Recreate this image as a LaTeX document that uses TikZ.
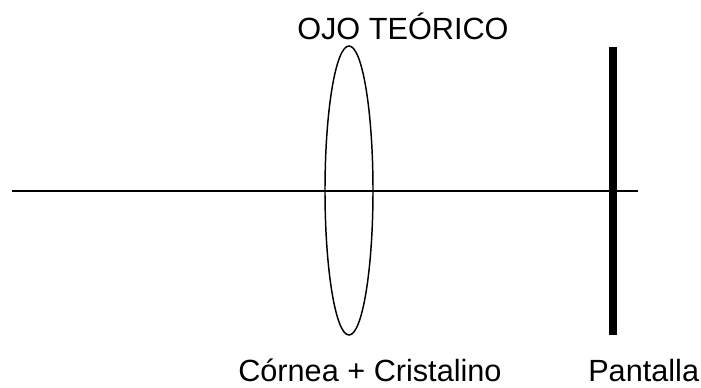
\documentclass[tikz,border=0pt]{standalone}
\usepackage{fontspec}
\setmainfont{Liberation Sans}
\usetikzlibrary{positioning,shapes.geometric}

\begin{document}
\begin{tikzpicture}[
  x=0.75pt, y=-0.75pt,
  lbl/.style={inner sep=0pt, font=\fontsize{23}{27}\selectfont},
  lens/.style={ellipse, draw, line width=1.1pt, inner sep=0pt, minimum width=36pt, minimum height=216.75pt},
  screen/.style={line width=5.3pt},
  axis/.style={line width=1.1pt}
]
\useasboundingbox (0,0) rectangle (701,387);

% lens and screen
\node[lens] at (349,190.5) (lens) {};
\coordinate (scrT) at (613,47);
\coordinate (scrB) at (613,335);
\draw[screen] (scrT) -- (scrB);

% optical axis
\coordinate (axL) at (12,191);
\coordinate (axR) at (638,191);
\draw[axis] (axL) -- (axR);

% labels
\node[lbl, anchor=base west] at (297,39) (title) {OJO TEÓRICO};
\node[lbl, anchor=base west] at (238,381) (lenslbl) {Córnea + Cristalino};
\node[lbl, anchor=base west] at (588,381) (scrlbl) {Pantalla};
\end{tikzpicture}
\end{document}
